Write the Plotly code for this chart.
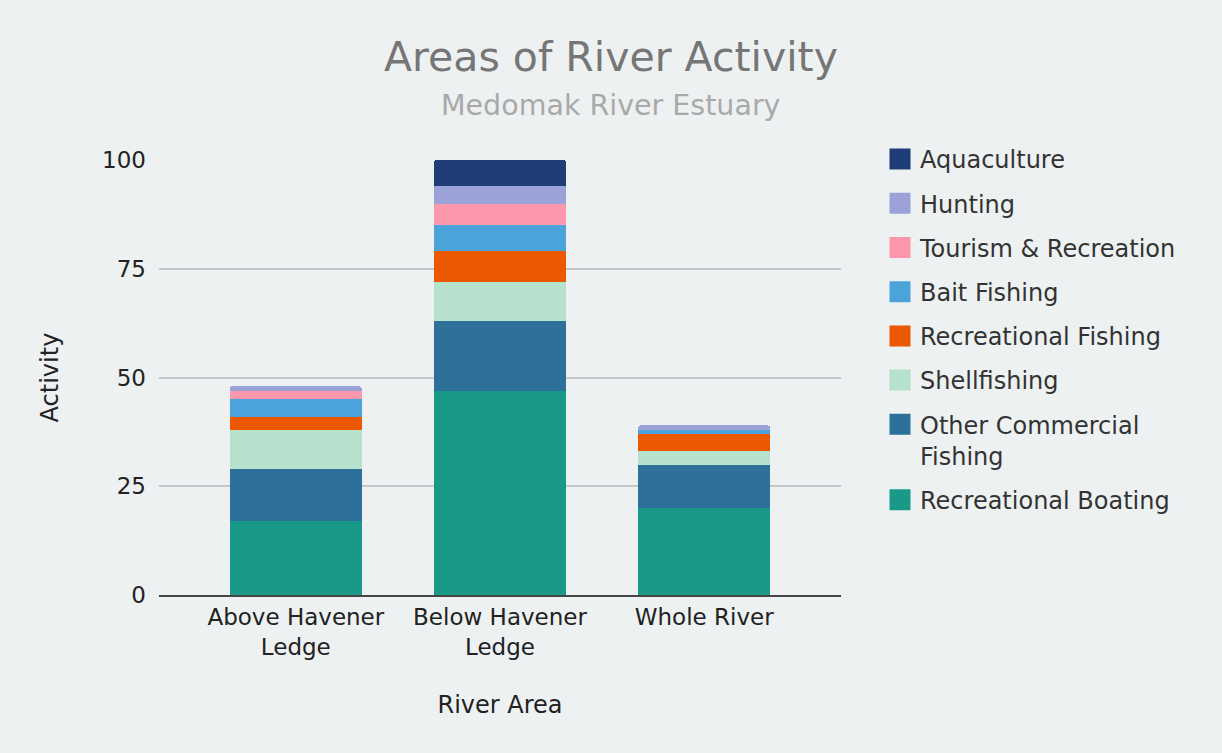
import plotly.graph_objects as go

categories = ["Above Havener<br>Ledge", "Below Havener<br>Ledge", "Whole River"]

series_names = [
    "Recreational Boating",
    "Other Commercial<br>Fishing",
    "Shellfishing",
    "Recreational Fishing",
    "Bait Fishing",
    "Tourism & Recreation",
    "Hunting",
    "Aquaculture",
]

recreational_boating = [17, 47, 20]
other_commercial_fishing = [12, 16, 10]
shellfishing = [9, 9, 3]
recreational_fishing = [3, 7, 4]
bait_fishing = [4, 6, 1]
tourism_recreation = [2, 5, 0]
hunting = [1, 4, 1]
aquaculture = [0, 6, 0]

series_values = [
    recreational_boating,
    other_commercial_fishing,
    shellfishing,
    recreational_fishing,
    bait_fishing,
    tourism_recreation,
    hunting,
    aquaculture,
]

colors = ["#1b9988", "#2d709a", "#b6e1cd", "#ec5800", "#4ba3d9", "#fd97ab", "#9ba2d8", "#1f3e78"]

y_ticks = [0, 25, 50, 75, 100]

FONT = "DejaVu Sans"
BG = "#eef1f2"

fig = go.Figure()
for name, vals, col in zip(series_names, series_values, colors):
    fig.add_trace(go.Bar(
        x=categories, y=vals, name=name, marker_color=col,
        marker_line_width=0, showlegend=False,
    ))
# legend entries (larger square symbols), top of stack listed first
for name, col in reversed(list(zip(series_names, colors))):
    fig.add_trace(go.Scatter(
        x=[None], y=[None], mode="markers", name=name, legendgroup=name,
        marker=dict(symbol="square", size=16, color=col, line=dict(color=col, width=5)),
        showlegend=True, hoverinfo="skip",
    ))

fig.update_layout(
    barmode="stack",
    bargap=0.353,
    barcornerradius=3,
    width=1222, height=753,
    paper_bgcolor=BG, plot_bgcolor=BG,
    margin=dict(l=159, r=381, t=160, b=158, autoexpand=False),
    font=dict(family=FONT, size=23, color="#222222"),
    title=dict(text="Areas of River Activity", x=0.5, xref="container", xanchor="center",
               y=1 - 57 / 753, yref="container", yanchor="middle",
               font=dict(family=FONT, size=41, color="#767676")),
    annotations=[dict(text="Medomak River Estuary", xref="paper", yref="paper",
                      x=(611 - 159) / 682, y=(595 - 106) / 435, xanchor="center", yanchor="middle",
                      showarrow=False, font=dict(family=FONT, size=28.5, color="#a9a9a9"))],
    legend=dict(traceorder="grouped", x=(880 - 159) / 682, xanchor="left",
                y=1 + 23 / 435, yanchor="top", valign="top", tracegroupgap=10,
                maxheight=600,
                bgcolor="rgba(0,0,0,0)", font=dict(family=FONT, size=24, color="#333333")),
    xaxis=dict(range=[-0.67, 2.67], showgrid=False, showline=True, linecolor="#444444", linewidth=2,
               tickfont=dict(size=23, color="#222222"), ticks="",
               title=dict(text="River Area", font=dict(size=24, color="#222222"), standoff=38)),
    yaxis=dict(range=[0, 100], tickvals=y_ticks, ticktext=[str(v) for v in y_ticks],
               showgrid=True, gridcolor="#c3c7c9", gridwidth=2, zeroline=False, showline=False,
               tickfont=dict(size=23, color="#222222"), ticks="", ticklabelstandoff=12,
               title=dict(text="Activity", font=dict(size=24, color="#222222"), standoff=36)),
)

fig.write_html("out.html")
